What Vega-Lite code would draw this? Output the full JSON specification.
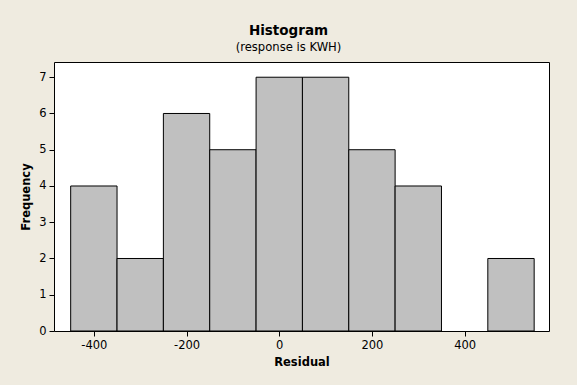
{
  "$schema": "https://vega.github.io/schema/vega-lite/v6.json",
  "width": 495,
  "height": 269,
  "autosize": {"type": "none"},
  "padding": {"left": 54, "top": 62, "right": 28, "bottom": 54},
  "background": "#efebe0",
  "title": {
    "text": "Histogram",
    "subtitle": "(response is KWH)",
    "anchor": "middle",
    "dx": -13,
    "offset": 8,
    "font": "DejaVu Sans",
    "fontSize": 13.5,
    "fontWeight": "bold",
    "color": "#000000",
    "subtitleFont": "DejaVu Sans",
    "subtitleFontSize": 11.6,
    "subtitleColor": "#000000",
    "subtitlePadding": 5
  },
  "data": {
    "values": [
      {"bin_start": -450, "bin_end": -350, "count": 4},
      {"bin_start": -350, "bin_end": -250, "count": 2},
      {"bin_start": -250, "bin_end": -150, "count": 6},
      {"bin_start": -150, "bin_end": -50, "count": 5},
      {"bin_start": -50, "bin_end": 50, "count": 7},
      {"bin_start": 50, "bin_end": 150, "count": 7},
      {"bin_start": 150, "bin_end": 250, "count": 5},
      {"bin_start": 250, "bin_end": 350, "count": 4},
      {"bin_start": 350, "bin_end": 450, "count": 0},
      {"bin_start": 450, "bin_end": 550, "count": 2}
    ]
  },
  "transform": [{"filter": "datum.count > 0"}],
  "mark": {"type": "bar", "fill": "#c0c0c0", "stroke": "#000000", "strokeWidth": 1},
  "encoding": {
    "x": {
      "field": "bin_start",
      "type": "quantitative",
      "scale": {"domain": [-486, 582], "nice": false, "zero": false},
      "axis": {"title": "Residual", "values": [-400, -200, 0, 200, 400], "grid": false, "domain": false, "labelExpr": "replace(datum.label, '\u2212', '-')"}
    },
    "x2": {"field": "bin_end"},
    "y": {
      "field": "count",
      "type": "quantitative",
      "scale": {"domain": [0, 7.42], "nice": false},
      "axis": {"title": "Frequency", "values": [0, 1, 2, 3, 4, 5, 6, 7], "grid": false, "domain": false}
    },
    "y2": {"datum": 0}
  },
  "config": {
    "view": {"stroke": "#000000", "strokeWidth": 1, "fill": "#ffffff"},
    "axis": {
      "labelFont": "DejaVu Sans",
      "labelFontSize": 11.5,
      "labelColor": "#000000",
      "titleFont": "DejaVu Sans",
      "titleFontSize": 11.5,
      "titleFontWeight": "bold",
      "titleColor": "#000000",
      "tickColor": "#000000",
      "tickSize": 5,
      "labelPadding": 3
    },
    "axisX": {"titlePadding": 6},
    "axisY": {"titlePadding": 7}
  }
}
